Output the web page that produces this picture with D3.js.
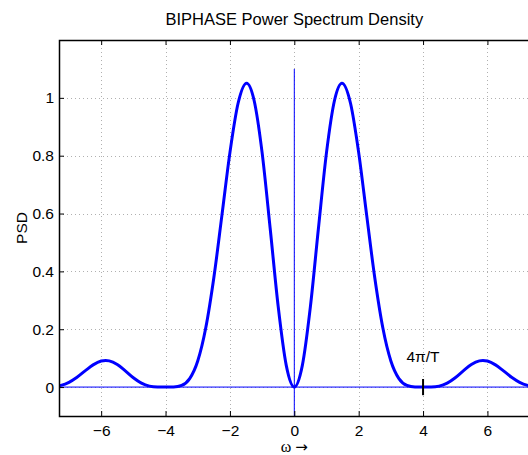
<!DOCTYPE html>
<html>
<head>
<meta charset="UTF-8">
<title>BIPHASE PSD</title>
<script src="https://d3js.org/d3.v7.min.js"></script>
<style>
    body { margin: 0; background: #ffffff; }
    svg text { font-family: "Liberation Sans", Arial, sans-serif; fill: #000000; }
</style>
</head>
<body>
<div id="chart"></div>
<script>
    // values
    const omega = [-7.5, -7.25, -7, -6.75, -6.5, -6.25, -6, -5.86, -5.75, -5.5, -5.25, -5, -4.75, -4.5, -4.25, -4,
        -3.75, -3.5, -3.25, -3, -2.75, -2.5, -2.25, -2, -1.75, -1.48, -1.25, -1, -0.75, -0.5, -0.25, 0,
        0.25, 0.5, 0.75, 1, 1.25, 1.48, 1.75, 2, 2.25, 2.5, 2.75, 3, 3.25, 3.5, 3.75,
        4, 4.25, 4.5, 4.75, 5, 5.25, 5.5, 5.75, 5.86, 6, 6.25, 6.5, 6.75, 7, 7.25, 7.5];
    const psd = [0.0012, 0.0059, 0.0165, 0.034, 0.0559, 0.0768, 0.0901, 0.0922, 0.0907, 0.0781, 0.0562, 0.0324, 0.0137, 0.0034, 0.0003, 0,
        0.0003, 0.0057, 0.0292, 0.0901, 0.2049, 0.3779, 0.5926, 0.8106, 0.9796, 1.0507, 0.9918, 0.8106, 0.5491, 0.2781, 0.0751, 0,
        0.0751, 0.2781, 0.5491, 0.8106, 0.9918, 1.0507, 0.9796, 0.8106, 0.5926, 0.3779, 0.2049, 0.0901, 0.0292, 0.0057, 0.0003,
        0, 0.0003, 0.0034, 0.0137, 0.0324, 0.0562, 0.0781, 0.0907, 0.0922, 0.0901, 0.0768, 0.0559, 0.034, 0.0165, 0.0059, 0.0012];
    const xTicks = [-6, -4, -2, 0, 2, 4, 6];
    const yTicks = [0, 0.2, 0.4, 0.6, 0.8, 1];
    const xDomain = [-7.31, 7.31];
    const yDomain = [-0.1, 1.2];
    const markerOmega = 4;
    const markerLabel = '4\u03C0/T';

    const width = 528, height = 455;
    const plotLeft = 59, plotRight = 529.6, plotTop = 40, plotBottom = 416;

    const svg = d3.select('#chart').append('svg')
        .attr('width', width)
        .attr('height', height);

    const x = d3.scaleLinear().domain(xDomain).range([plotLeft, plotRight]);
    const y = d3.scaleLinear().domain(yDomain).range([plotBottom, plotTop]);

    svg.append('defs').append('clipPath').attr('id', 'plotclip')
        .append('rect')
        .attr('x', plotLeft).attr('y', plotTop)
        .attr('width', plotRight - plotLeft).attr('height', plotBottom - plotTop);

    // dotted grid
    const grid = svg.append('g');
    grid.selectAll('.gx').data(xTicks).enter().append('line')
        .attr('x1', d => Math.round(x(d)) + 0.5).attr('x2', d => Math.round(x(d)) + 0.5)
        .attr('y1', plotTop).attr('y2', plotBottom)
        .attr('stroke', '#b0b0b0').attr('stroke-width', 1).attr('stroke-dasharray', '1,3');
    grid.selectAll('.gy').data(yTicks).enter().append('line')
        .attr('y1', d => Math.round(y(d)) + 0.5).attr('y2', d => Math.round(y(d)) + 0.5)
        .attr('x1', plotLeft).attr('x2', plotRight)
        .attr('stroke', '#b0b0b0').attr('stroke-width', 1).attr('stroke-dasharray', '1,3');

    const plot = svg.append('g').attr('clip-path', 'url(#plotclip)');

    // thin axis lines through origin
    plot.append('line')
        .attr('x1', x(xDomain[0])).attr('x2', x(xDomain[1]))
        .attr('y1', y(0)).attr('y2', y(0))
        .attr('stroke', '#0000ff').attr('stroke-width', 1);
    plot.append('line')
        .attr('x1', x(0)).attr('x2', x(0))
        .attr('y1', y(yDomain[0])).attr('y2', y(1.1))
        .attr('stroke', '#0000ff').attr('stroke-width', 1);

    const points = omega.map((w, i) => [w, psd[i]]);
    const line = d3.line()
        .x(d => x(d[0]))
        .y(d => y(d[1]))
        .curve(d3.curveMonotoneX);
    plot.append('path')
        .datum(points)
        .attr('d', line)
        .attr('fill', 'none')
        .attr('stroke', '#0000ff')
        .attr('stroke-width', 3)
        .attr('stroke-linejoin', 'round');

    // marker at 4pi/T
    plot.append('line')
        .attr('x1', x(markerOmega)).attr('x2', x(markerOmega))
        .attr('y1', y(-0.028)).attr('y2', y(0.028))
        .attr('stroke', '#000000').attr('stroke-width', 2);
    svg.append('text')
        .attr('x', x(markerOmega)).attr('y', y(0.085))
        .attr('text-anchor', 'middle')
        .style('font-size', '15.5px')
        .text(markerLabel);

    // axes box with inward ticks
    const xAxisB = d3.axisBottom(x).tickValues(xTicks).tickSizeInner(-5).tickSizeOuter(0)
        .tickPadding(9).tickFormat(d => d3.format('')(d).replace('-', '\u2212'));
    const gx = svg.append('g').attr('transform', `translate(0,${plotBottom})`).call(xAxisB);
    const xAxisT = d3.axisTop(x).tickValues(xTicks).tickSizeInner(-5).tickSizeOuter(0).tickFormat('');
    const gxt = svg.append('g').attr('transform', `translate(0,${plotTop})`).call(xAxisT);
    const yAxisL = d3.axisLeft(y).tickValues(yTicks).tickSizeInner(-5).tickSizeOuter(0)
        .tickPadding(5).tickFormat(d => d === 0 || d === 1 ? String(d) : d3.format('.1f')(d));
    const gy = svg.append('g').attr('transform', `translate(${plotLeft},0)`).call(yAxisL);

    [gx, gxt, gy].forEach(g => {
        g.select('.domain').remove();
        g.selectAll('line').attr('stroke', '#000000');
        g.selectAll('text').style('font-size', '15.5px').attr('fill', '#000000');
    });

    svg.append('rect')
        .attr('x', plotLeft + 0.5).attr('y', plotTop + 0.5)
        .attr('width', plotRight - plotLeft).attr('height', plotBottom - plotTop)
        .attr('fill', 'none').attr('stroke', '#000000').attr('stroke-width', 1.5);

    svg.append('text')
        .attr('x', (plotLeft + plotRight) / 2).attr('y', 25)
        .attr('text-anchor', 'middle')
        .style('font-size', '16.5px')
        .text('BIPHASE Power Spectrum Density');

    const xLabel = svg.append('text')
        .attr('x', (plotLeft + plotRight) / 2).attr('y', 452)
        .attr('text-anchor', 'middle');
    xLabel.append('tspan')
        .style('font-family', '"Liberation Serif", serif')
        .style('font-size', '16px')
        .text('\u03C9 ');
    xLabel.append('tspan')
        .style('font-family', '"DejaVu Sans", sans-serif')
        .style('font-size', '15px')
        .text('\u2192');

    svg.append('text')
        .attr('transform', `translate(27,${(plotTop + plotBottom) / 2}) rotate(-90)`)
        .attr('text-anchor', 'middle')
        .style('font-size', '15.5px')
        .text('PSD');
</script>
</body>
</html>
